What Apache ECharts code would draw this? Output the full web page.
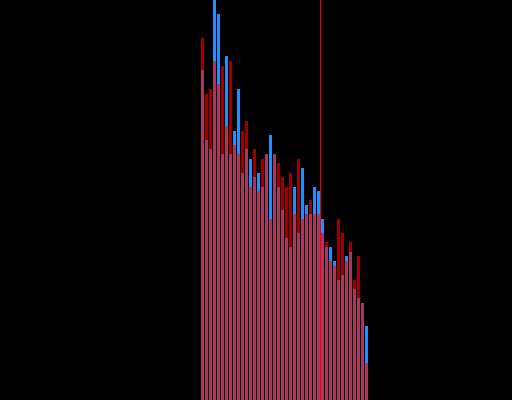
<!DOCTYPE html>
<html>
<head>
<meta charset="utf-8">
<script src="https://cdn.jsdelivr.net/npm/echarts@6/dist/echarts.min.js"></script>
<style>
html,body{margin:0;padding:0;background:#000;}
#c{width:512px;height:400px;}
</style>
</head>
<body>
<div id="c"></div>
<script>
// Bin index (0..41) for each bar
var bins = [0,1,2,3,4,5,6,7,8,9,10,11,12,13,14,15,16,17,18,19,20,21,22,23,24,25,26,27,28,29,30,31,32,33,34,35,36,37,38,39,40,41];
// Series A (blue) counts
var blueValues = [330,260,251,400,386,246,344,246,269,311,227,251,241,223,227,213,246,265,246,213,190,162,153,213,167,232,195,186,213,209,181,153,153,139,120,125,144,148,111,102,97,74];
// Series B (red, semi-transparent) counts
var redValues = [362,306,311,339,316,334,274,339,255,246,269,279,213,251,209,241,246,181,246,237,223,213,227,186,241,181,186,200,186,186,167,158,139,134,181,167,139,158,120,144,97,37];
// Threshold marker position (bin boundary)
var threshold = 30;

var chart = echarts.init(document.getElementById('c'), null, {renderer: 'canvas'});
function pairs(vals){ return bins.map(function(b,i){ return [b + 0.5, vals[i]]; }); }
chart.setOption({
  animation: false,
  backgroundColor: '#000000',
  grid: {left: 200.5, right: 143.5, top: 0, bottom: 0},
  xAxis: {type: 'value', min: 0, max: 42, show: false},
  yAxis: {type: 'value', min: 0, max: 400, show: false},
  series: [
    {
      type: 'bar', data: pairs(blueValues), barWidth: 3, barGap: '-100%',
      itemStyle: {color: '#1e90ff'}, silent: true
    },
    {
      type: 'bar', data: pairs(redValues), barWidth: 3, barGap: '-100%',
      itemStyle: {color: '#ff0000', opacity: 0.62}, silent: true,
      markLine: {
        silent: true, symbol: 'none', label: {show: false},
        lineStyle: {color: '#ff0000', width: 1, type: 'solid', opacity: 1},
        data: [{xAxis: threshold}]
      }
    }
  ]
});
</script>
</body>
</html>
